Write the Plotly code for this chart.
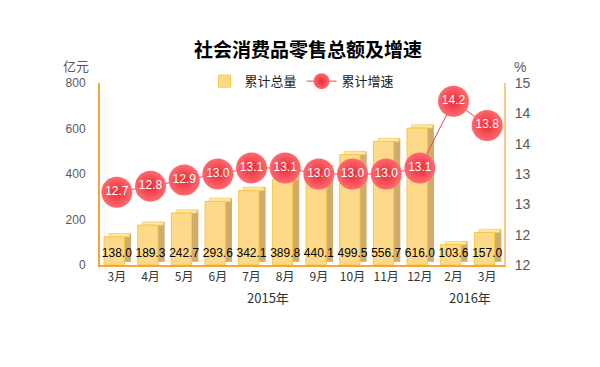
import plotly.graph_objects as go

years = ["2015年"] * 10 + ["2016年"] * 2
months = ["3月", "4月", "5月", "6月", "7月", "8月", "9月", "10月", "11月", "12月", "2月", "3月"]
total = [138.0, 189.3, 242.7, 293.6, 342.1, 389.8, 440.1, 499.5, 556.7, 616.0, 103.6, 157.0]
growth = [12.7, 12.8, 12.9, 13.0, 13.1, 13.1, 13.0, 13.0, 13.0, 13.1, 14.2, 13.8]
left_ticks = [0, 200, 400, 600, 800]
right_ticks = [11.5, 12.0, 12.5, 13.0, 13.5, 14.0, 14.5]

x = list(range(len(months)))
depth = 14
font_cjk = "Noto Sans CJK SC, Liberation Sans, Arial"
font_num = "Liberation Sans, Arial"

def fmt0(v):
    return str(int(v + 0.5))

fig = go.Figure()
# side face
fig.add_trace(go.Bar(x=x, y=[v - depth for v in total], base=[depth] * len(total),
                     width=0.2, offset=0.22, marker=dict(color="#cfac6c", line=dict(width=0)),
                     showlegend=False, hoverinfo="skip"))
# top face
fig.add_trace(go.Bar(x=x, y=[depth] * len(total), base=[v - depth for v in total],
                     width=0.62, offset=-0.24, marker=dict(color="#ffe6a8", line=dict(color="#f7cf62", width=0.8)),
                     showlegend=False, hoverinfo="skip"))
# front face
fig.add_trace(go.Bar(x=x, y=[v - depth for v in total], width=0.6, offset=-0.38,
                     marker=dict(color="#ffd98a", line=dict(color="#f6c842", width=1)),
                     name="累计总量"))
# bar value labels
fig.add_trace(go.Scatter(x=x, y=[50] * len(total), mode="text",
                         text=[f"{v:.1f}" for v in total],
                         textfont=dict(family=font_num, size=12, color="#000000"),
                         showlegend=False, hoverinfo="skip"))
# growth line
fig.add_trace(go.Scatter(x=x, y=growth, yaxis="y2", mode="lines+markers+text",
                         name="累计增速",
                         line=dict(color="#e8474f", width=1),
                         marker=dict(size=31, color="#ff6a70",
                                     gradient=dict(type="radial", color="#e92a36"),
                                     line=dict(width=0)),
                         text=[f"{v:.1f}" for v in growth], textposition="middle center",
                         textfont=dict(family=font_num, size=12, color="#ffffff")))

# year group labels, centred under their months
year_annots = []
for yr in dict.fromkeys(years):
    idx = [i for i, y in enumerate(years) if y == yr]
    year_annots.append(dict(text=yr, xref="x", yref="paper", x=sum(idx) / len(idx), y=0,
                            yshift=-32, xanchor="center", yanchor="middle", showarrow=False,
                            font=dict(family=font_cjk, size=13, color="#333333")))

fig.update_layout(
    width=600, height=367,
    margin=dict(l=92, r=104, t=75, b=110),
    paper_bgcolor="white", plot_bgcolor="white",
    barmode="overlay",
    title=dict(text="<b>社会消费品零售总额及增速</b>", x=0.5, xanchor="center",
               y=1 - 42 / 367, yanchor="middle",
               font=dict(family=font_cjk, size=19, color="#000000")),
    legend=dict(orientation="h", x=0.5, xanchor="center", y=1.01, yanchor="middle",
                bgcolor="rgba(0,0,0,0)", font=dict(family=font_cjk, size=13, color="#222222"),
                itemwidth=30, tracegroupgap=6),
    xaxis=dict(range=[-0.5, len(months) - 0.5], tickvals=x, ticktext=months, showline=True,
               linecolor="#f7a43c", linewidth=2, ticks="", showgrid=False, zeroline=False,
               tickfont=dict(family=font_cjk, size=12, color="#333333")),
    yaxis=dict(range=[0, 800], tickvals=left_ticks, showgrid=False, zeroline=False,
               showline=True, linecolor="#f7a43c", linewidth=2, ticks="", ticklabelstandoff=10,
               tickfont=dict(family=font_num, size=12, color="#595959")),
    yaxis2=dict(range=[11.5, 14.5], overlaying="y", side="right", tickvals=right_ticks,
                ticktext=[fmt0(v) for v in right_ticks], showgrid=False, zeroline=False,
                showline=True, linecolor="#f9c98c", linewidth=2, ticks="", ticklabelstandoff=6,
                tickfont=dict(family=font_num, size=14, color="#595959")),
    annotations=[
        dict(text="亿元", xref="paper", yref="paper", x=-0.059, y=1.0, yshift=6, xanchor="center",
             yanchor="bottom", showarrow=False, font=dict(family=font_cjk, size=13, color="#595959")),
        dict(text="%", xref="paper", yref="paper", x=1.04, y=1.0, yshift=6, xanchor="center",
             yanchor="bottom", showarrow=False, font=dict(family=font_num, size=14, color="#595959")),
    ] + year_annots,
)

fig.write_html("out.html")
